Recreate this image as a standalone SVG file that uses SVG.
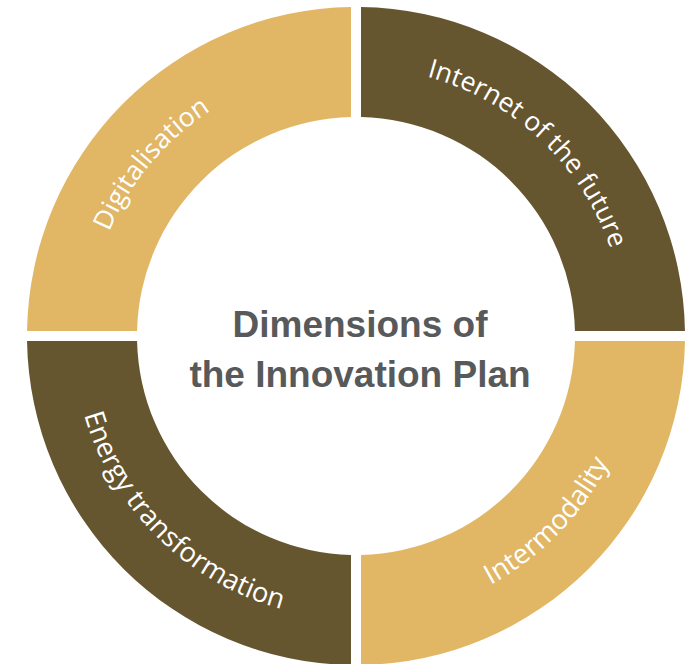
<svg xmlns="http://www.w3.org/2000/svg" xmlns:xlink="http://www.w3.org/1999/xlink" width="691" height="664" viewBox="0 0 691 664">
<style>
.gold{fill:#E1B664}
.brown{fill:#665630}
.lbl{font-family:"Open Sans","Liberation Sans",sans-serif;font-size:26.5px;fill:#FFFFFF;text-anchor:middle}
.lblb{font-size:27.5px}
.title{font-family:"Liberation Sans",Arial,sans-serif;font-weight:bold;font-size:37px;fill:#58595B;text-anchor:middle}
</style>
<defs>
<path id="arcTL" d="M88,336 A268,268 0 0 1 356,68"/>
<path id="arcTR" d="M356,67 A269,269 0 0 1 625,336"/>
<path id="arcBL" d="M73,336 A283,283 0 0 0 356,619"/>
<path id="arcBR" d="M356,619 A283,283 0 0 0 639,336"/>
</defs>
<rect width="691" height="664" fill="#FFFFFF"/>
<g id="digitalisation">
<path class="gold" d="M351,7.04 L351,117.06 A219,219 0 0 0 137.06,331 L27.04,331 A329,329 0 0 1 351,7.04 Z"/>
<text class="lbl"><textPath xlink:href="#arcTL" href="#arcTL" startOffset="44.5%">Digitalisation</textPath></text>
</g>
<g id="internet">
<path class="brown" d="M361,7.04 A329,329 0 0 1 684.96,331 L574.94,331 A219,219 0 0 0 361,117.06 Z"/>
<text class="lbl"><textPath xlink:href="#arcTR" href="#arcTR" startOffset="48%">Internet of the future</textPath></text>
</g>
<g id="energy">
<path class="brown" d="M27.04,341 L137.06,341 A219,219 0 0 0 351,554.94 L351,664.96 A329,329 0 0 1 27.04,341 Z"/>
<text class="lbl lblb"><textPath xlink:href="#arcBL" href="#arcBL" startOffset="50.5%">Energy transformation</textPath></text>
</g>
<g id="intermodality">
<path class="gold" d="M361,554.94 A219,219 0 0 0 574.94,341 L684.96,341 A329,329 0 0 1 361,664.96 Z"/>
<text class="lbl lblb"><textPath xlink:href="#arcBR" href="#arcBR" startOffset="51%">Intermodality</textPath></text>
</g>
<g id="center">
<text class="title" x="360" y="337">Dimensions of</text>
<text class="title" x="360" y="387">the Innovation Plan</text>
</g>
</svg>
